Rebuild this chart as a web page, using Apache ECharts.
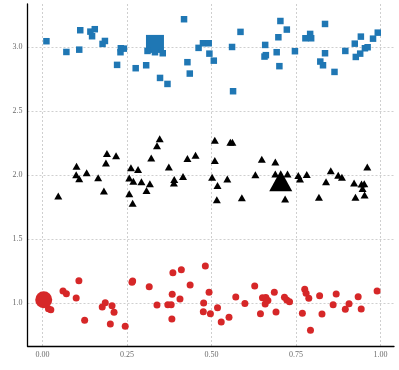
<!DOCTYPE html>
<html>
<head>
<meta charset="utf-8">
<script src="https://cdn.jsdelivr.net/npm/echarts@6/dist/echarts.min.js"></script>
<style>
  html, body { margin: 0; padding: 0; background: #fff; }
  #chart { width: 399px; height: 370px; }
</style>
</head>
<body>
<div id="chart"></div>
<script>
// tick labels
const xTicks = [0, 0.25, 0.5, 0.75, 1.0]
const yTicks = [1.0, 1.5, 2.0, 2.5, 3.0]

// blue squares (group 3)
const blueX = [0.012, 0.071, 0.112, 0.109, 0.142, 0.155, 0.147, 0.178, 0.185, 0.232, 0.241, 0.231, 0.221, 0.276, 0.307, 0.311, 0.333, 0.356, 0.348, 0.370, 0.419, 0.429, 0.436, 0.462, 0.475, 0.492, 0.494, 0.507, 0.561, 0.586, 0.564, 0.659, 0.657, 0.661, 0.704, 0.723, 0.698, 0.693, 0.701, 0.747, 0.778, 0.792, 0.795, 0.836, 0.822, 0.830, 0.836, 0.864, 0.896, 0.924, 0.942, 0.927, 0.940, 0.954, 0.962, 0.978, 0.992]
const blueY = [3.047, 2.963, 3.133, 2.981, 3.122, 3.141, 3.086, 3.026, 3.049, 2.992, 2.989, 2.961, 2.862, 2.836, 2.859, 2.971, 2.961, 2.953, 2.760, 2.713, 3.219, 2.883, 2.794, 2.995, 3.031, 3.031, 2.950, 2.895, 3.002, 3.120, 2.656, 3.018, 2.927, 2.938, 3.205, 3.138, 3.078, 2.961, 2.852, 2.969, 3.070, 3.104, 3.070, 3.182, 2.888, 2.859, 2.953, 2.807, 2.971, 3.028, 3.083, 2.924, 2.950, 2.992, 3.000, 3.067, 3.114]
const blueBig = [0.333, 3.026]

// black triangles (group 2)
const blackX = [0.047, 0.101, 0.100, 0.109, 0.131, 0.165, 0.182, 0.191, 0.188, 0.218, 0.262, 0.257, 0.269, 0.257, 0.267, 0.283, 0.293, 0.308, 0.318, 0.322, 0.339, 0.347, 0.374, 0.390, 0.389, 0.416, 0.429, 0.453, 0.510, 0.556, 0.562, 0.510, 0.502, 0.518, 0.516, 0.547, 0.590, 0.630, 0.649, 0.689, 0.689, 0.725, 0.718, 0.757, 0.762, 0.782, 0.818, 0.839, 0.853, 0.875, 0.886, 0.922, 0.944, 0.952, 0.947, 0.926, 0.953, 0.961]
const blackY = [1.836, 2.070, 2.002, 1.971, 2.018, 1.979, 1.875, 2.169, 2.094, 2.151, 2.057, 1.977, 1.953, 1.854, 1.781, 2.044, 1.948, 1.880, 1.932, 2.133, 2.229, 2.284, 2.063, 1.966, 1.938, 1.989, 2.130, 2.156, 2.273, 2.258, 2.258, 2.114, 1.984, 1.919, 1.807, 1.969, 1.823, 2.002, 2.125, 2.102, 2.008, 2.008, 1.813, 1.997, 1.969, 2.005, 1.828, 1.948, 2.034, 2.000, 1.984, 1.938, 1.930, 1.932, 1.896, 1.828, 1.844, 2.063]
const blackBig = [0.705, 1.957]

// red circles (group 1)
const redX = [0.018, 0.025, 0.061, 0.071, 0.108, 0.100, 0.125, 0.177, 0.186, 0.206, 0.212, 0.201, 0.245, 0.267, 0.265, 0.316, 0.339, 0.371, 0.381, 0.383, 0.386, 0.411, 0.384, 0.407, 0.437, 0.482, 0.493, 0.477, 0.476, 0.497, 0.518, 0.529, 0.552, 0.572, 0.599, 0.628, 0.645, 0.651, 0.661, 0.667, 0.659, 0.686, 0.691, 0.716, 0.723, 0.731, 0.769, 0.776, 0.780, 0.788, 0.793, 0.820, 0.827, 0.860, 0.869, 0.896, 0.907, 0.934, 0.943, 0.990]
const redY = [0.955, 0.948, 1.094, 1.073, 1.174, 1.039, 0.865, 0.969, 1.002, 0.979, 0.927, 0.836, 0.818, 1.172, 1.162, 1.127, 0.984, 0.987, 0.987, 0.875, 1.237, 1.260, 1.068, 1.031, 1.141, 1.289, 1.084, 1.000, 0.932, 0.916, 0.963, 0.852, 0.888, 1.047, 0.996, 1.133, 0.916, 1.041, 1.043, 1.020, 0.992, 1.084, 0.930, 1.045, 1.023, 1.010, 0.920, 1.107, 1.076, 1.037, 0.787, 1.057, 0.914, 0.987, 1.070, 0.951, 0.995, 1.049, 0.953, 1.094]
const redBig = [0.004, 1.026]

const chart = echarts.init(document.getElementById('chart'), null, { renderer: 'canvas' })

const pairs = (xs, ys) => xs.map((x, i) => [x, ys[i]])

const labelFont = {
  fontFamily: 'Liberation Serif',
  fontSize: 8,
  color: '#6b6b6b'
}

// dotted light grey grid
const gridLine = {
  show: true,
  lineStyle: { color: '#cfcfcf', type: [2, 2], width: 1 }
}

const option = {
  animation: false,
  backgroundColor: '#fff',
  grid: { left: 27.5, right: 5, top: 4, bottom: 24, containLabel: false },
  xAxis: {
    type: 'value',
    min: -0.044,
    max: 1.04,
    axisLine: { show: true, onZero: false, lineStyle: { color: '#000', width: 1.3 } },
    axisTick: { show: false, customValues: xTicks },
    axisLabel: {
      ...labelFont,
      margin: 5,
      customValues: xTicks,
      formatter: v => v.toFixed(2)
    },
    splitLine: gridLine
  },
  yAxis: {
    type: 'value',
    min: 0.664,
    max: 3.338,
    axisLine: { show: true, onZero: false, lineStyle: { color: '#000', width: 1.3 } },
    axisTick: { show: false, customValues: yTicks },
    axisLabel: {
      ...labelFont,
      margin: 5,
      customValues: yTicks,
      formatter: v => v.toFixed(1)
    },
    splitLine: gridLine
  },
  series: [
    {
      type: 'scatter',
      symbol: 'circle',
      symbolSize: 7,
      itemStyle: { color: '#d62728', opacity: 1 },
      data: [{ value: redBig, symbolSize: 17 }].concat(pairs(redX, redY))
    },
    {
      type: 'scatter',
      symbol: 'triangle',
      symbolSize: [8, 7],
      itemStyle: { color: '#000', opacity: 1 },
      data: [{ value: blackBig, symbolSize: [23, 21] }].concat(pairs(blackX, blackY))
    },
    {
      type: 'scatter',
      symbol: 'rect',
      symbolSize: 6.5,
      itemStyle: { color: '#1f77b4', opacity: 1 },
      data: [{ value: blueBig, symbolSize: 18 }].concat(pairs(blueX, blueY))
    }
  ]
}

chart.setOption(option)
</script>
</body>
</html>
